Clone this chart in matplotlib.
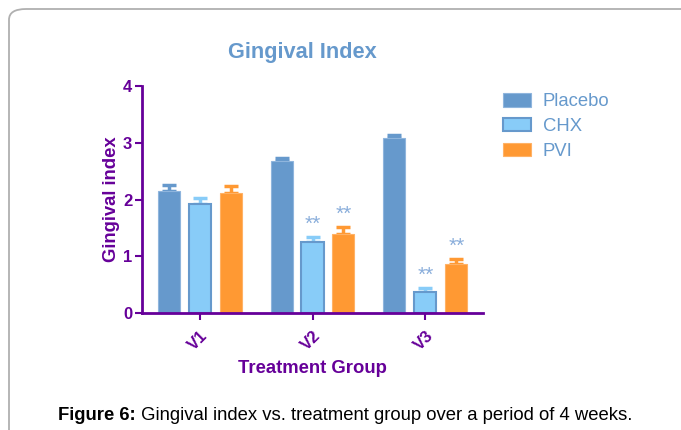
import matplotlib.pyplot as plt
import numpy as np
from matplotlib.patches import FancyBboxPatch, Patch

plt.rcParams['font.family'] = ['Liberation Sans', 'DejaVu Sans']

## Data
groups = ['V1', 'V2', 'V3']
series = ['Placebo', 'CHX', 'PVI']
placebo = [2.15, 2.67, 3.09]
chx = [1.92, 1.25, 0.37]
pvi = [2.11, 1.40, 0.86]
placebo_err = [0.10, 0.07, 0.04]
chx_err = [0.11, 0.09, 0.07]
pvi_err = [0.12, 0.11, 0.10]
# significance marks: (group index, series index)
stars = [(1, 1), (1, 2), (2, 1), (2, 2)]

purple = '#660099'
blue = '#6699cc'
light = '#88ccf8'
orange = '#ff9933'
star_col = '#8aaedb'

fig = plt.figure(figsize=(6.81, 4.30), dpi=100)

# grey rounded frame around the figure panel
frame = FancyBboxPatch((9 / 681, -0.2), 1.2, 1.2 - 9 / 430,
                       boxstyle='round,pad=0,rounding_size=0.025',
                       transform=fig.transFigure, fill=False,
                       edgecolor='#b0b0b0', linewidth=1.3)
fig.add_artist(frame)

ax = fig.add_axes([142 / 681, 1 - 313 / 430, (483 - 142) / 681, (313 - 86) / 430])

x = np.arange(len(groups))
w = 0.195
step = 0.274
vals = [placebo, chx, pvi]
errs = [placebo_err, chx_err, pvi_err]
faces = [blue, light, orange]
edges = ['#8fb5dd', blue, '#ffb266']
errcols = [blue, light, orange]

for i in range(3):
    pos = x + (i - 1) * step
    ax.bar(pos, vals[i], width=w, color=faces[i], edgecolor=edges[i],
           linewidth=1.5 if i == 1 else 0.8, zorder=2)
    ax.errorbar(pos, vals[i], yerr=[np.zeros(3), errs[i]], fmt='none',
                ecolor=errcols[i], elinewidth=2.5, capsize=5, capthick=2.5,
                zorder=1)

for g, s in stars:
    top = vals[s][g] + errs[s][g]
    ax.text(g + (s - 1) * step, top + 0.22, '**', color=star_col,
            ha='center', va='center', fontsize=15)

ax.set_xlim(-0.51, 2.51)
ax.set_ylim(0, 4)
ax.set_yticks([0, 1, 2, 3, 4])
ax.set_xticks(x)
ax.set_xticklabels(groups, rotation=45, ha='right', va='top',
                   rotation_mode='anchor')

for sp in ['top', 'right']:
    ax.spines[sp].set_visible(False)
for sp in ['left', 'bottom']:
    ax.spines[sp].set_color(purple)
    ax.spines[sp].set_linewidth(2)
ax.tick_params(colors=purple, width=1.5, length=5, labelsize=12)
for lab in ax.get_xticklabels() + ax.get_yticklabels():
    lab.set_fontweight('bold')
ax.tick_params(axis='x', pad=6)
ax.tick_params(axis='y', pad=2)

ax.set_ylabel('Gingival index', color=purple, fontsize=13.3, fontweight='bold',
              labelpad=2)
ax.set_xlabel('Treatment Group', color=purple, fontsize=13.3, fontweight='bold',
              labelpad=5)
ax.set_title('Gingival Index', color=blue, fontsize=15.7, fontweight='bold',
             pad=20, x=0.47)

handles = [Patch(facecolor=faces[i], edgecolor=edges[i],
                 linewidth=1.5 if i == 1 else 0.8) for i in range(3)]
leg = fig.legend(handles, series, loc='upper left',
                 bbox_to_anchor=(503 / 681, 1 - 93 / 430), frameon=False,
                 fontsize=13.3, handlelength=1.5, handleheight=0.75,
                 handletextpad=0.65, labelspacing=0.42, borderpad=0,
                 borderaxespad=0)
for t in leg.get_texts():
    t.set_color(blue)

# caption: bold prefix + normal text
t1 = fig.text(58 / 681, 1 - 420 / 430, 'Figure 6:', fontsize=13.3,
              fontweight='bold', va='baseline')
ann = fig.text(0, 0, ' Gingival index vs. treatment group over a period of 4 weeks.',
               fontsize=13.3, va='baseline')
fig.canvas.draw()
bb = t1.get_window_extent()
ann.set_position((bb.x1 / fig.bbox.width, 1 - 420 / 430))

fig.savefig('out.png', dpi=100)
